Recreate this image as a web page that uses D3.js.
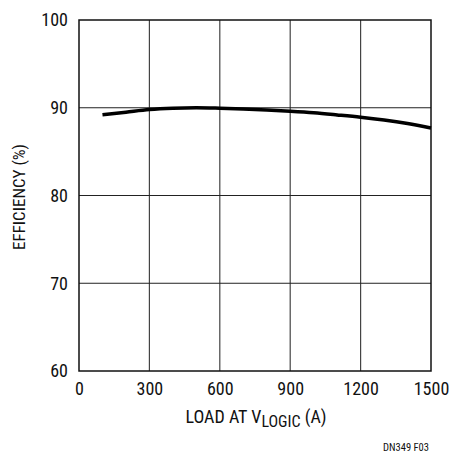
<!DOCTYPE html>
<html><head><meta charset="utf-8">
<script src="https://cdn.jsdelivr.net/npm/d3@7"></script>
<style>
body{margin:0;background:#fff;}
text{font-family:"Liberation Sans Narrow","Roboto Condensed","Liberation Sans",Arial,sans-serif;fill:#111;}
</style></head>
<body><svg id="c" width="450" height="454"></svg>
<script>
const loads = [100,200,300,400,500,600,700,800,900,1000,1100,1200,1300,1400,1500];
const efficiency = [89.2,89.5,89.8,89.95,90.0,89.95,89.87,89.75,89.6,89.42,89.18,88.92,88.6,88.2,87.7];
const xTicks = [0,300,600,900,1200,1500];
const yTicks = [60,70,80,90,100];

const svg = d3.select("#c");
const L=79, R=431, T=20, B=371;
const x = d3.scaleLinear().domain([0,1500]).range([L,R]);
const y = d3.scaleLinear().domain([60,100]).range([B,T]);

// grid
svg.append("g").selectAll("line").data(xTicks.slice(1,-1)).join("line")
  .attr("x1",d=>x(d)).attr("x2",d=>x(d)).attr("y1",T).attr("y2",B)
  .attr("stroke","#444").attr("stroke-width",1.2);
svg.append("g").selectAll("line").data(yTicks.slice(1,-1)).join("line")
  .attr("x1",L).attr("x2",R).attr("y1",d=>y(d)).attr("y2",d=>y(d))
  .attr("stroke","#222").attr("stroke-width",1);
svg.append("rect").attr("x",L).attr("y",T).attr("width",R-L).attr("height",B-T)
  .attr("fill","none").attr("stroke","#111").attr("stroke-width",1.5);

// axes labels
const xa = svg.append("g").attr("transform",`translate(0,${B})`)
  .call(d3.axisBottom(x).tickValues(xTicks).tickFormat(d3.format("d")).tickSize(0));
xa.select(".domain").remove();
xa.selectAll("text").attr("font-size",18).style("font-family",null).attr("dy",null).attr("y",24);
const ya = svg.append("g").attr("transform",`translate(${L},0)`)
  .call(d3.axisLeft(y).tickValues(yTicks).tickSize(0).tickPadding(11));
ya.select(".domain").remove();
ya.selectAll("text").attr("font-size",18).style("font-family",null);

// curve
const line = d3.line().x((d,i)=>x(loads[i])).y(d=>y(d)).curve(d3.curveMonotoneX);
svg.append("path").datum(efficiency).attr("d",line)
  .attr("fill","none").attr("stroke","#000").attr("stroke-width",3.5);

// titles
const xt = svg.append("text").attr("x",256).attr("y",423).attr("text-anchor","middle").attr("font-size",18);
xt.append("tspan").text("LOAD AT V");
xt.append("tspan").attr("dy",4).attr("font-size",16).text("LOGIC");
xt.append("tspan").attr("dy",-4).text(" (A)");
svg.append("text").attr("transform","translate(25,197) rotate(-90)").attr("text-anchor","middle")
  .attr("font-size",17).text("EFFICIENCY (%)");
svg.append("text").attr("x",429).attr("y",451).attr("text-anchor","end").attr("font-size",10.5).text("DN349 F03");
</script></body></html>
